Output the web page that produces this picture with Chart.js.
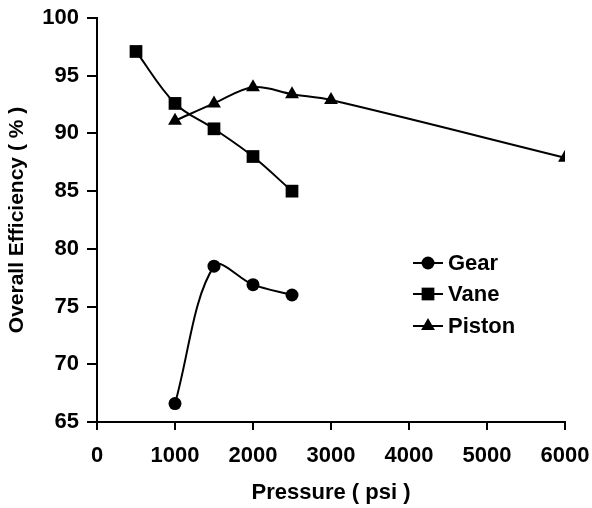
<!DOCTYPE html>
<html>
<head>
<meta charset="utf-8">
<title>Overall Efficiency vs Pressure</title>
<script src="https://cdn.jsdelivr.net/npm/chart.js@4.4.1/dist/chart.umd.min.js"></script>
<style>
    html, body { margin: 0; padding: 0; background: #fff; }
    #wrap { width: 592px; height: 508px; }
</style>
</head>
<body>
<div id="wrap"><canvas id="chartEff" width="592" height="508"></canvas></div>
<script>
// valores
const gearPressure = [1000, 1500, 2000, 2500];
const gearEff = [66.6, 78.5, 76.9, 76.0];

const vanePressure = [500, 1000, 1500, 2000, 2500];
const vaneEff = [97.1, 92.6, 90.4, 88.0, 85.0];

const pistonPressure = [1000, 1500, 2000, 2500, 3000, 6000];
const pistonEff = [91.1, 92.6, 94.0, 93.4, 92.9, 87.9];

const seriesNames = ['Gear', 'Vane', 'Piston'];
const xTicks = [0, 1000, 2000, 3000, 4000, 5000, 6000];
const yTicks = [65, 70, 75, 80, 85, 90, 95, 100];

const toPoints = (xs, ys) => xs.map((x, i) => ({ x: x, y: ys[i] }));

Chart.defaults.font.family = '"Liberation Sans", Arial, sans-serif';
Chart.defaults.font.weight = 'bold';
Chart.defaults.color = '#000';

// leyenda dibujada dentro del area, como en el original
const insideLegend = {
    id: 'insideLegend',
    afterDraw(chart) {
        const ctx = chart.ctx;
        const rows = [263, 294, 326];
        ctx.save();
        chart.data.datasets.forEach((ds, i) => {
            const y = rows[i];
            ctx.strokeStyle = '#000';
            ctx.lineWidth = 2;
            ctx.beginPath();
            ctx.moveTo(413, y);
            ctx.lineTo(443, y);
            ctx.stroke();
            ctx.fillStyle = '#000';
            Chart.helpers.drawPoint(ctx, {
                pointStyle: ds.pointStyle,
                radius: ds.pointRadius,
                borderWidth: 0
            }, 428, y);
            ctx.fillStyle = '#000';
            ctx.font = 'bold 22px "Liberation Sans", Arial, sans-serif';
            ctx.textAlign = 'left';
            ctx.textBaseline = 'middle';
            ctx.fillText(ds.label, 448, y + 1);
        });
        ctx.restore();
    }
};

function renderChart() {
    const ctx = document.getElementById('chartEff');
    const base = {
        borderColor: '#000',
        backgroundColor: '#000',
        pointBackgroundColor: '#000',
        pointBorderColor: '#000',
        pointBorderWidth: 0,
        borderWidth: 2,
        tension: 0.35,
        fill: false
    };
    new Chart(ctx, {
        type: 'line',
        data: {
            datasets: [
                Object.assign({}, base, { label: seriesNames[0], data: toPoints(gearPressure, gearEff), pointStyle: 'circle', pointRadius: 6.5 }),
                Object.assign({}, base, { label: seriesNames[1], data: toPoints(vanePressure, vaneEff), pointStyle: 'rect', pointRadius: 9 }),
                Object.assign({}, base, { label: seriesNames[2], data: toPoints(pistonPressure, pistonEff), pointStyle: 'triangle', pointRadius: 8 })
            ]
        },
        options: {
            responsive: false,
            animation: false,
            layout: { padding: { top: 18, right: 27, left: 0, bottom: 0 } },
            plugins: {
                legend: { display: false },
                tooltip: { enabled: false }
            },
            scales: {
                x: {
                    type: 'linear',
                    min: xTicks[0],
                    max: xTicks[xTicks.length - 1],
                    afterBuildTicks: s => { s.ticks = xTicks.map(v => ({ value: v })); },
                    afterFit: s => { s.height = 86; s.paddingRight = 0; s.paddingLeft = 0; },
                    grid: { drawOnChartArea: false, drawTicks: true, tickLength: 8, color: '#000', lineWidth: 2 },
                    border: { display: true, color: '#000', width: 2 },
                    ticks: { font: { size: 22, weight: 'bold' }, padding: 13, maxRotation: 0, callback: v => String(v) },
                    title: { display: true, text: 'Pressure ( psi )', font: { size: 22, weight: 'bold' }, padding: { top: 0, bottom: 2 } }
                },
                y: {
                    min: yTicks[0],
                    max: yTicks[yTicks.length - 1],
                    afterBuildTicks: s => { s.ticks = yTicks.map(v => ({ value: v })); },
                    afterFit: s => { s.width = 97; s.paddingTop = 0; s.paddingBottom = 0; },
                    grid: { drawOnChartArea: false, drawTicks: true, tickLength: 10, color: '#000', lineWidth: 2 },
                    border: { display: true, color: '#000', width: 2 },
                    ticks: { font: { size: 22, weight: 'bold' }, padding: 8, callback: v => String(v) },
                    title: { display: true, text: 'Overall Efficiency ( % )', font: { size: 21, weight: 'bold' }, padding: { top: 5, bottom: 4 } }
                }
            }
        },
        plugins: [insideLegend]
    });
}

renderChart();
</script>
</body>
</html>
